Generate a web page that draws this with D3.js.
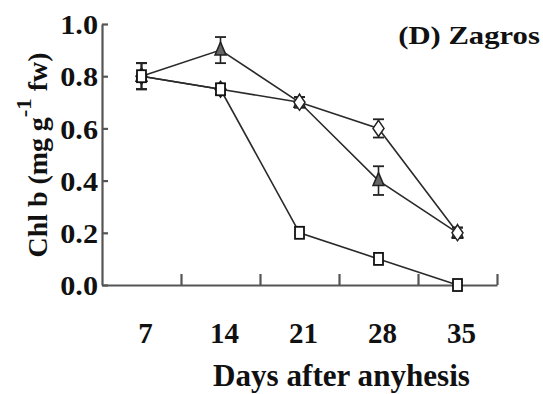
<!DOCTYPE html>
<html>
<head>
<meta charset="utf-8">
<script src="https://cdn.jsdelivr.net/npm/d3@7"></script>
<style>
  body { margin: 0; background: #fff; }
  svg { display: block; }
</style>
</head>
<body>
<div id="chart"></div>
<script>
var width = 543,
  height = 394;
var serif = '"Liberation Serif", "Times New Roman", serif';

// data
var days = [7, 14, 21, 28, 35];
var seriesA = [0.80, 0.90, 0.70, 0.40, 0.20]; // triangles
var seriesB = [0.80, 0.75, 0.70, 0.60, 0.20]; // diamonds
var seriesC = [0.80, 0.75, 0.20, 0.10, 0.00]; // squares
var errA = [0.05, 0.05, 0.02, 0.055, 0.02];
var errB = [0.05, 0.02, 0.02, 0.035, 0.02];
var errC = [0.05, 0, 0, 0, 0];
var yTicks = [0, 0.2, 0.4, 0.6, 0.8, 1.0];
var xBounds = [10.5, 17.5, 24.5, 31.5, 38.5];

var svg = d3.select('#chart')
  .append('svg')
  .attr('width', width)
  .attr('height', height);

var x = d3.scaleLinear().domain([3.5, 38.5]).range([102, 497]);
var y = d3.scaleLinear().domain([0, 1]).range([285, 24]);

function txt(sel, size) {
  return sel
    .attr('font-family', serif)
    .attr('font-weight', 'bold')
    .attr('font-size', size)
    .attr('fill', '#111');
}

// stretch a centred text along its own direction to a given length
function fit(sel, cx, cy, rot, len) {
  var w = sel.node().getBBox().width;
  sel.attr('x', 0).attr('y', 0)
    .attr('text-anchor', 'middle')
    .attr('transform', 'translate(' + cx + ',' + cy + ') rotate(' + rot + ') scale(' + (len / w) + ',1)');
  return sel;
}

// axes
var xAxis = d3.axisBottom(x)
  .tickValues(xBounds)
  .tickSizeInner(-11)
  .tickSizeOuter(0)
  .tickFormat('');

var gx = svg.append('g')
  .attr('transform', 'translate(0,' + y(0) + ')')
  .call(xAxis);

var yAxis = d3.axisLeft(y)
  .tickValues(yTicks)
  .tickSizeInner(-6)
  .tickSizeOuter(0)
  .tickFormat(d3.format('.1f'));

var gy = svg.append('g')
  .attr('transform', 'translate(' + x(3.5) + ',0)')
  .call(yAxis);

[gx, gy].forEach(function (g) {
  g.select('.domain').attr('stroke', '#555').attr('stroke-width', 2.2);
  g.selectAll('.tick line').attr('stroke', '#555').attr('stroke-width', 2.2);
});
txt(gy.selectAll('.tick text'), 27)
  .attr('x', 0)
  .attr('dy', '0.36em')
  .attr('transform', 'translate(-4,0) scale(1.12,1)');

// x labels at the category centres
txt(svg.append('g')
  .selectAll('text')
  .data(days)
  .enter()
  .append('text'), 29)
  .attr('x', function (d) { return x(d) + 4; })
  .attr('y', 343)
  .attr('text-anchor', 'middle')
  .text(function (d) { return d; });

fit(txt(svg.append('text'), 31).text('Days after anyhesis'), 341.5, 386, 0, 257);

fit(txt(svg.append('text'), 25).text('(D) Zagros'), 469, 44, 0, 142);

var ylab = txt(svg.append('text'), 27);
ylab.append('tspan').text('Chl b (mg g');
ylab.append('tspan').attr('dy', -16).attr('font-size', 22).text('-1');
ylab.append('tspan').attr('dy', 16).text(' fw)');
fit(ylab, 47, 155, -90, 205);

var line = d3.line()
  .x(function (d, i) { return x(days[i]); })
  .y(function (d) { return y(d); });

var series = [
  {vals: seriesA, err: errA, shape: 'tri'},
  {vals: seriesB, err: errB, shape: 'dia'},
  {vals: seriesC, err: errC, shape: 'sq'}
];

series.forEach(function (s) {
  svg.append('path')
    .datum(s.vals)
    .attr('fill', 'none')
    .attr('stroke', '#2a2a2a')
    .attr('stroke-width', 1.6)
    .attr('d', line);
});

series.forEach(function (s) {
  var g = svg.append('g');
  s.vals.forEach(function (v, i) {
    var cx = x(days[i]),
      cy = y(v),
      e = s.err[i];
    if (e > 0) {
      g.append('line')
        .attr('x1', cx).attr('x2', cx)
        .attr('y1', y(v + e)).attr('y2', y(v - e))
        .attr('stroke', '#222').attr('stroke-width', 1.6);
      [v + e, v - e].forEach(function (w) {
        g.append('line')
          .attr('x1', cx - 5.5).attr('x2', cx + 5.5)
          .attr('y1', y(w)).attr('y2', y(w))
          .attr('stroke', '#222').attr('stroke-width', 1.8);
      });
    }
    if (s.shape === 'sq') {
      g.append('rect')
        .attr('x', cx - 4.5).attr('y', cy - 6)
        .attr('width', 9).attr('height', 12)
        .attr('fill', '#fff').attr('stroke', '#111').attr('stroke-width', 1.8);
    } else if (s.shape === 'tri') {
      g.append('path')
        .attr('d', 'M' + cx + ',' + (cy - 8) + 'L' + (cx + 5.5) + ',' + (cy + 5) + 'L' + (cx - 5.5) + ',' + (cy + 5) + 'Z')
        .attr('fill', '#666').attr('stroke', '#222').attr('stroke-width', 1.5);
    } else {
      g.append('path')
        .attr('d', 'M' + cx + ',' + (cy - 8) + 'L' + (cx + 5.5) + ',' + cy + 'L' + cx + ',' + (cy + 8) + 'L' + (cx - 5.5) + ',' + cy + 'Z')
        .attr('fill', '#fff').attr('stroke', '#222').attr('stroke-width', 1.5);
    }
  });
});
</script>
</body>
</html>
